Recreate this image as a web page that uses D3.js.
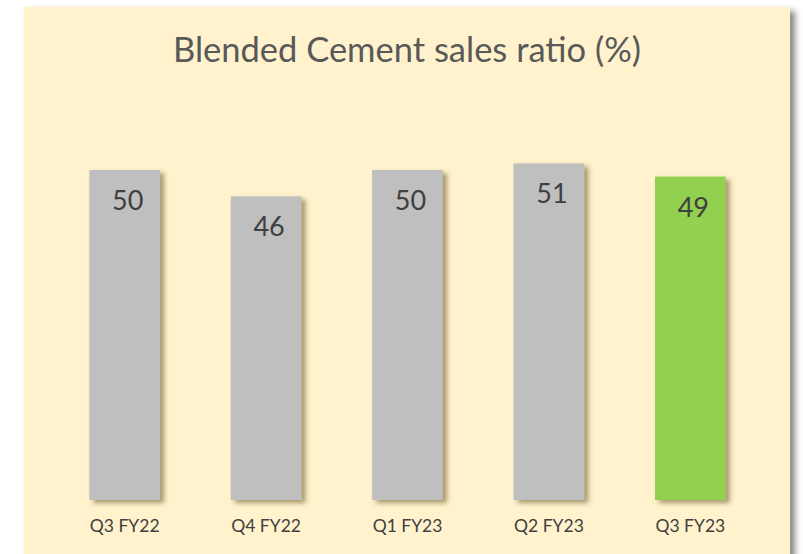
<!DOCTYPE html>
<html>
<head>
<meta charset="utf-8">
<script src="https://cdn.jsdelivr.net/npm/d3@7"></script>
<style>
  body { margin: 0; background: #fff; }
  svg { display: block; font-family: Lato, "Open Sans", sans-serif; }
</style>
</head>
<body>
<svg width="803" height="554"></svg>
<script>
// chart data
var quarters = ["Q3 FY22", "Q4 FY22", "Q1 FY23", "Q2 FY23", "Q3 FY23"];
var ratios = [50, 46, 50, 51, 49];
var barColors = ["#bfbfbf", "#bfbfbf", "#bfbfbf", "#bfbfbf", "#92d050"];
var title = "Blended Cement sales ratio (%)";

var svg = d3.select("svg");

var defs = svg.append("defs");
var panelShadow = defs.append("filter").attr("id", "panelShadow")
    .attr("x", "-5%").attr("y", "-5%").attr("width", "115%").attr("height", "115%");
panelShadow.append("feDropShadow")
    .attr("dx", 5).attr("dy", 4).attr("stdDeviation", 3)
    .attr("flood-color", "#555").attr("flood-opacity", 0.7);

var barShadow = defs.append("filter").attr("id", "barShadow")
    .attr("x", "-20%").attr("y", "-10%").attr("width", "150%").attr("height", "130%");
barShadow.append("feDropShadow")
    .attr("dx", 4).attr("dy", 3).attr("stdDeviation", 2.5)
    .attr("flood-color", "#6b5a2e").attr("flood-opacity", 0.6);

// background panel
svg.append("rect")
    .attr("x", 24).attr("y", 7)
    .attr("width", 766).attr("height", 560)
    .attr("fill", "#fff2cc")
    .attr("filter", "url(#panelShadow)");

var x = d3.scaleBand()
    .domain(quarters)
    .range([54, 761])
    .paddingInner(0.5)
    .paddingOuter(0.25);

var y = d3.scaleLinear()
    .domain([0, 60])
    .range([500, 104]);

svg.append("text")
    .attr("x", 407).attr("y", 62)
    .attr("text-anchor", "middle")
    .attr("font-size", 34.5)
    .attr("fill", "#595959")
    .text(title);

var bars = svg.selectAll(".bar")
    .data(ratios)
    .enter().append("rect")
    .attr("class", "bar")
    .attr("x", function (d, i) { return x(quarters[i]) })
    .attr("y", function (d) { return y(d) })
    .attr("width", x.bandwidth())
    .attr("height", function (d) { return y(0) - y(d) })
    .attr("fill", function (d, i) { return barColors[i] })
    .attr("filter", "url(#barShadow)");

svg.selectAll(".val")
    .data(ratios)
    .enter().append("text")
    .attr("class", "val")
    .attr("x", function (d, i) { return x(quarters[i]) + x.bandwidth() / 2 + 3 })
    .attr("y", function (d) { return y(d) + 40 })
    .attr("text-anchor", "middle")
    .attr("font-size", 27)
    .attr("fill", "#404040")
    .text(function (d) { return d });

var xAxis = svg.append("g")
    .attr("transform", "translate(0,500)")
    .call(d3.axisBottom(x).tickSize(0).tickPadding(20));
xAxis.select(".domain").remove();
xAxis.selectAll("text")
    .attr("font-family", "Lato, 'Open Sans', sans-serif")
    .attr("font-size", 17.5)
    .attr("fill", "#404040");
</script>
</body>
</html>
